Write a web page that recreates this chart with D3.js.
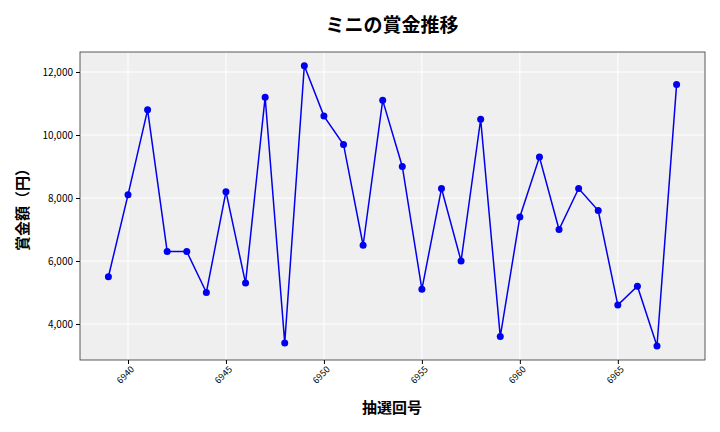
<!DOCTYPE html>
<html><head><meta charset="utf-8">
<script src="https://cdn.jsdelivr.net/npm/d3@7"></script>
<style>body{margin:0;background:#fff}text{font-family:"Noto Sans CJK JP","Noto Sans",sans-serif}</style>
</head><body><svg id="c" width="720" height="432"></svg>
<script>
const draws = d3.range(6939, 6969);
const prizes = [5500,8100,10800,6300,6300,5000,8200,5300,11200,3400,12200,10600,9700,6500,11100,9000,5100,8300,6000,10500,3600,7400,9300,7000,8300,7600,4600,5200,3300,11600];
const xTicks = [6940,6945,6950,6955,6960,6965];
const yTicks = [4000,6000,8000,10000,12000];
const title = "ミニの賞金推移", xLabel = "抽選回号", yLabel = "賞金額（円）";

const svg = d3.select("#c");
const L=80,R=705,T=52,B=360;
const x = d3.scaleLinear().domain([6937.55,6969.45]).range([L,R]);
const y = d3.scaleLinear().domain([2857,12635]).range([B,T]);
svg.append("rect").attr("x",L).attr("y",T).attr("width",R-L).attr("height",B-T).attr("fill","#efefef");
const g = svg.append("g");
g.selectAll(".vx").data(xTicks).join("line").attr("x1",d=>x(d)).attr("x2",d=>x(d)).attr("y1",T).attr("y2",B).attr("stroke","#fff");
g.selectAll(".hy").data(yTicks).join("line").attr("x1",L).attr("x2",R).attr("y1",d=>y(d)).attr("y2",d=>y(d)).attr("stroke","#fff");
svg.append("rect").attr("x",L).attr("y",T).attr("width",R-L).attr("height",B-T).attr("fill","none").attr("stroke","#333").attr("stroke-width",0.8);
const xa = svg.append("g").attr("transform",`translate(0,${B})`).call(d3.axisBottom(x).tickValues(xTicks).tickFormat(d3.format("d")).tickSize(4));
xa.selectAll("text").attr("transform","rotate(-45)").attr("text-anchor","end").attr("dx","-0.3em").attr("dy","0.5em").style("font-size","9px");
xa.select(".domain").remove();
const ya = svg.append("g").attr("transform",`translate(${L},0)`).call(d3.axisLeft(y).tickValues(yTicks).tickFormat(d3.format(",")).tickSize(4));
ya.selectAll("text").style("font-size","10px");
ya.select(".domain").remove();
const line = d3.line().x((d,i)=>x(draws[i])).y(d=>y(d));
svg.append("path").datum(prizes).attr("d",line).attr("fill","none").attr("stroke","#0000ee").attr("stroke-width",1.5);
svg.selectAll(".pt").data(prizes).join("circle").attr("cx",(d,i)=>x(draws[i])).attr("cy",d=>y(d)).attr("r",3.5).attr("fill","#0000ee");
svg.append("text").attr("x",392).attr("y",32).attr("text-anchor","middle").style("font-size","19px").style("font-weight","bold").text(title);
svg.append("text").attr("x",392).attr("y",413).attr("text-anchor","middle").style("font-size","15px").style("font-weight","bold").text(xLabel);
svg.append("text").attr("transform","translate(28,206) rotate(-90)").attr("text-anchor","middle").style("font-size","15px").style("font-weight","bold").text(yLabel);
</script></body></html>
